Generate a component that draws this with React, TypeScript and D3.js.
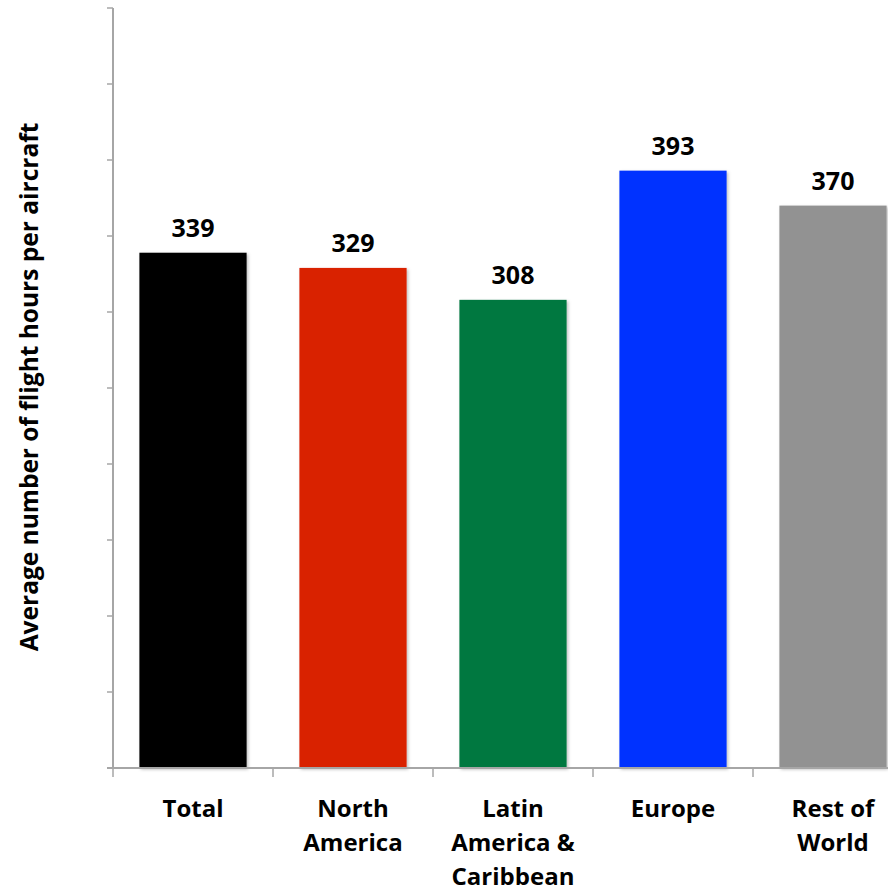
import React from "react";
import * as d3 from "d3";

const categories: string[][] = [
  ["Total"],
  ["North", "America"],
  ["Latin", "America &", "Caribbean"],
  ["Europe"],
  ["Rest of", "World"],
];
const values = [339, 329, 308, 393, 370];
const colors = ["#000000", "#d92100", "#017841", "#0433ff", "#929292"];
const yTicks = d3.range(0, 501, 50);
const yTitle = "Average number of flight hours per aircraft";

const W = 888;
const H = 891;
const left = 113;
const top = 8;
const bottom = 768;
const font = "'Open Sans', sans-serif";

export default function App() {
  const x = d3
    .scaleBand<number>()
    .domain(values.map((_, i) => i))
    .range([left, left + 160 * values.length])
    .paddingInner(0.33)
    .paddingOuter(0.165);
  const y = d3.scaleLinear().domain([0, 500]).range([bottom, top]);
  const axisColor = "#a6a6a6";
  return (
    <svg
      width={W}
      height={H}
      style={{ position: "absolute", left: 0, top: 0, display: "block" }}
    >
      <defs>
        <filter id="sh" x="-10%" y="-10%" width="120%" height="120%">
          <feDropShadow dx="1.5" dy="1.5" stdDeviation="1.5" floodColor="#000" floodOpacity="0.25" />
        </filter>
      </defs>
      <rect width={W} height={H} fill="#fff" />
      {values.map((v, i) => (
        <rect
          key={i}
          x={x(i)!}
          y={y(v)}
          width={x.bandwidth()}
          height={bottom - y(v)}
          fill={colors[i]}
          filter="url(#sh)"
        />
      ))}
      {/* y axis */}
      <line x1={left} x2={left} y1={top} y2={bottom} stroke={axisColor} strokeWidth={2} />
      {yTicks.map((t) => (
        <line key={t} x1={left - 6} x2={left} y1={y(t)} y2={y(t)} stroke={axisColor} strokeWidth={1.5} />
      ))}
      {/* x axis */}
      <line x1={left - 6} x2={W} y1={bottom} y2={bottom} stroke={axisColor} strokeWidth={2} />
      {values.map((_, i) => (
        <line
          key={i}
          x1={left + 160 * i}
          x2={left + 160 * i}
          y1={bottom}
          y2={bottom + 9}
          stroke={axisColor}
          strokeWidth={1.5}
        />
      ))}
      {values.map((v, i) => (
        <text
          key={"v" + i}
          x={x(i)! + x.bandwidth() / 2}
          y={y(v) - 16}
          textAnchor="middle"
          fontFamily={font}
          fontWeight="bold"
          fontSize={25}
          fill="#000"
        >
          {v}
        </text>
      ))}
      {categories.map((lines, i) => (
        <text
          key={"c" + i}
          textAnchor="middle"
          fontFamily={font}
          fontWeight="bold"
          fontSize={24}
          fill="#000"
        >
          {lines.map((l, j) => (
            <tspan key={j} x={x(i)! + x.bandwidth() / 2} y={817 + j * 34}>
              {l}
            </tspan>
          ))}
        </text>
      ))}
      <text
        transform={`translate(38, 387) rotate(-90)`}
        textAnchor="middle"
        fontFamily={font}
        fontWeight="bold"
        fontSize={24.5}
        fill="#000"
      >
        {yTitle}
      </text>
    </svg>
  );
}
